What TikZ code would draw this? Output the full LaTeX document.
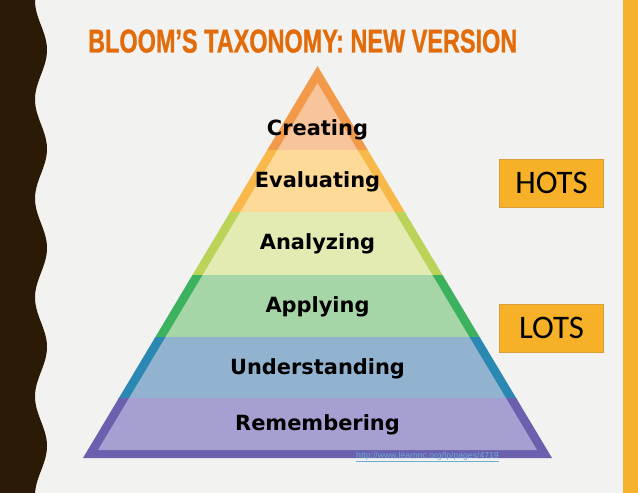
\documentclass[tikz,border=0pt]{standalone}
\usepackage{graphicx}
\usepackage{fontspec}
\setmainfont{DejaVu Sans}
\newfontfamily\titlefont[FakeBold=1.2]{Liberation Sans}
\newfontfamily\labfont{Carlito}
\newfontfamily\urlfont{Liberation Sans}
\definecolor{bgc}{HTML}{F2F2F0}
\definecolor{wavec}{HTML}{2B1B06}
\definecolor{barc}{HTML}{F6B22A}
\definecolor{titlec}{HTML}{E36C0A}
\definecolor{boxc}{HTML}{F6B128}
\definecolor{boxb}{HTML}{D9A03A}
\definecolor{urlc}{HTML}{6AADD6}
\definecolor{dA}{HTML}{F29A4A}\definecolor{lA}{HTML}{F8C49C}
\definecolor{dB}{HTML}{F8B84A}\definecolor{lB}{HTML}{FDDA98}
\definecolor{dC}{HTML}{BCD35A}\definecolor{lC}{HTML}{E3EBB3}
\definecolor{dD}{HTML}{3CB15E}\definecolor{lD}{HTML}{A6D6A8}
\definecolor{dE}{HTML}{2B88B2}\definecolor{lE}{HTML}{92B3D0}
\definecolor{dF}{HTML}{6A60AD}\definecolor{lF}{HTML}{A69FD1}
\tikzset{
  levellabel/.style={anchor=base, inner sep=0pt, text=black, font=\bfseries\fontsize{21}{24}\selectfont},
  thinkbox/.style={draw=boxb, line width=0.8pt, fill=boxc, minimum width=105, minimum height=48, inner sep=0pt, text=black, font=\labfont\fontsize{33}{36}\selectfont},
}
\newcommand{\pyrband}[4]{%
  \begin{scope}
    \clip (0,#1) rectangle (638,#2);
    \fill[#3] (317.5,66) -- (552,458) -- (83,458) -- cycle;
    \fill[#4] (317.5,83) -- (537,450) -- (98,450) -- cycle;
  \end{scope}}
\begin{document}
\begin{tikzpicture}[x=1bp, y=-1bp]
\useasboundingbox (0,0) rectangle (638,493);
\fill[bgc] (0,0) rectangle (638,493);
% left wavy band
\fill[wavec] (0,0) -- plot[domain=0:493, samples=250, variable=\t] ({41+6*cos(3.63636*(\t-50))}, \t) -- (0,493) -- cycle;
% right bar
\fill[barc] (623,0) rectangle (638,493);
% title
\node[anchor=south west, inner sep=0pt, text=titlec] (title) at (88,53)
  {\resizebox{429bp}{23bp}{\titlefont\bfseries BLOOM’S TAXONOMY: NEW VERSION}};
% pyramid bands
\pyrband{60}{151}{dA}{lA}
\pyrband{151}{213}{dB}{lB}
\pyrband{213}{275}{dC}{lC}
\pyrband{275}{337}{dD}{lD}
\pyrband{337}{398}{dE}{lE}
\pyrband{398}{460}{dF}{lF}
% labels
\node[levellabel] (creating) at (317.5,136) {Creating};
\node[levellabel] (evaluating) at (317.5,188) {Evaluating};
\node[levellabel] (analyzing) at (317.5,250) {Analyzing};
\node[levellabel] (applying) at (317.5,312) {Applying};
\node[levellabel] (understanding) at (317.5,374) {Understanding};
\node[levellabel] (remembering) at (317.5,430) {Remembering};
% HOTS / LOTS
\node[thinkbox] (hots) at (551.5,183) {HOTS};
\node[thinkbox] (lots) at (551.5,328) {LOTS};
% source url
\node[anchor=base west, inner sep=0pt, text=urlc] (url) at (356,458)
  {\urlfont\fontsize{8.7}{10}\selectfont\underline{http://www.learnnc.org/lp/pages/4719}};
\end{tikzpicture}
\end{document}
